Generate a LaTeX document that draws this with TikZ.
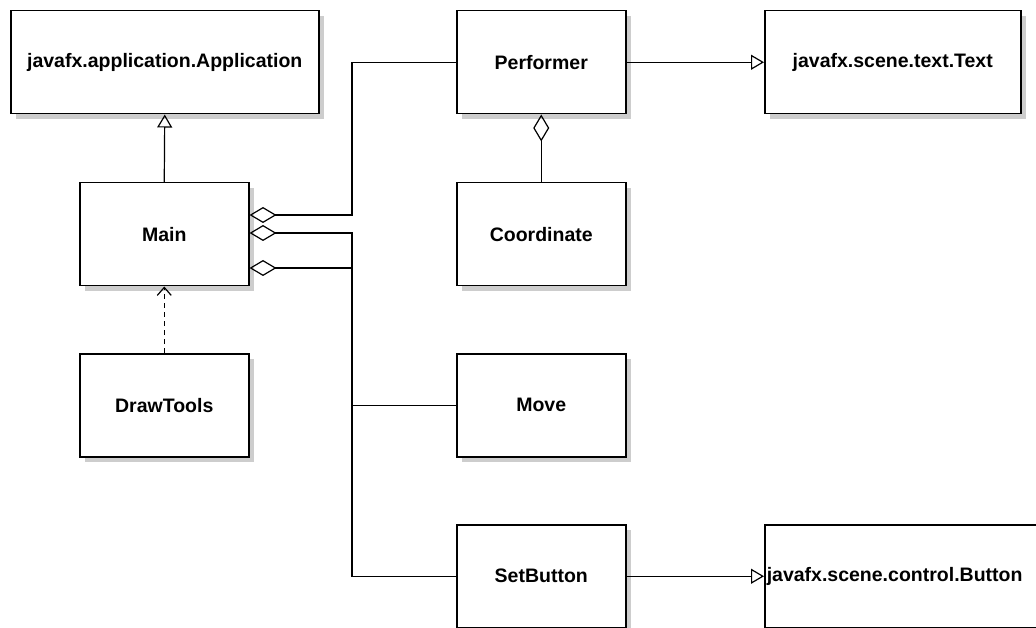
\documentclass[tikz,border=0pt]{standalone}
\usepackage{fontspec}
\setmainfont{Liberation Sans}
\usetikzlibrary{arrows.meta,shadows}
\definecolor{shadowgray}{RGB}{205,205,205}
\begin{document}
\begin{tikzpicture}[x=1pt,y=-1pt,
  cls/.style={draw=black,line width=1.5pt,fill=white,minimum width=169pt,minimum height=103pt,
    anchor=north west,inner sep=0pt,font=\bfseries\fontsize{19.5}{22}\selectfont,
    drop shadow={shadow xshift=5pt,shadow yshift=-5pt,fill=shadowgray,opacity=1}},
  conn/.style={draw=black,line width=1.2pt},
  inh/.style={conn,-{Triangle[open,length=13pt,width=15pt]}},
  agg/.style={conn,{Diamond[open,length=27pt,width=16pt]}-},
  dep/.style={conn,dashed,dash pattern=on 5pt off 4pt,-{Straight Barb[length=8pt,width=14pt]}}]
\useasboundingbox (0,0) rectangle (1036,628);
\fill[white] (0,0) rectangle (1036,628);
\node[cls,minimum width=308pt] (app) at (10,10) {javafx.application.Application};
\node[cls] (main) at (79,182) {Main};
\node[cls] (draw) at (79,353) {DrawTools};
\node[cls] (perf) at (456,10) {Performer};
\node[cls] (coord) at (456,182) {Coordinate};
\node[cls] (move) at (456,353) {Move};
\node[cls] (setb) at (456,524) {SetButton};
\node[cls,minimum width=256pt] (text) at (764,10) {javafx.scene.text.Text};
\node[cls,minimum width=290pt,text width=288pt,align=left,inner xsep=2pt] (btn) at (764,524) {javafx.scene.control.Button};
% coordinates on Main's right side
\coordinate (m1) at (main.north east |- 0,215);
\coordinate (m2) at (main.north east |- 0,233);
\coordinate (m3) at (main.north east |- 0,268);
\coordinate (jx) at (352,0);
% connectors
\draw[inh] (main.north) -- (app.south);
\draw[dep] (draw.north) -- (main.south);
\draw[agg] (perf.south) -- (coord.north);
\draw[inh] (perf.east) -- (text.west);
\draw[inh] (setb.east) -- (setb.east -| btn.west);
\draw[agg] (m1) -- (jx |- m1) |- (perf.west);
\draw[agg] (m2) -- (jx |- m2) |- (setb.west);
\draw[agg] (m3) -- (jx |- m3);
\draw[conn] (jx |- move.west) -- (move.west);
\end{tikzpicture}
\end{document}
